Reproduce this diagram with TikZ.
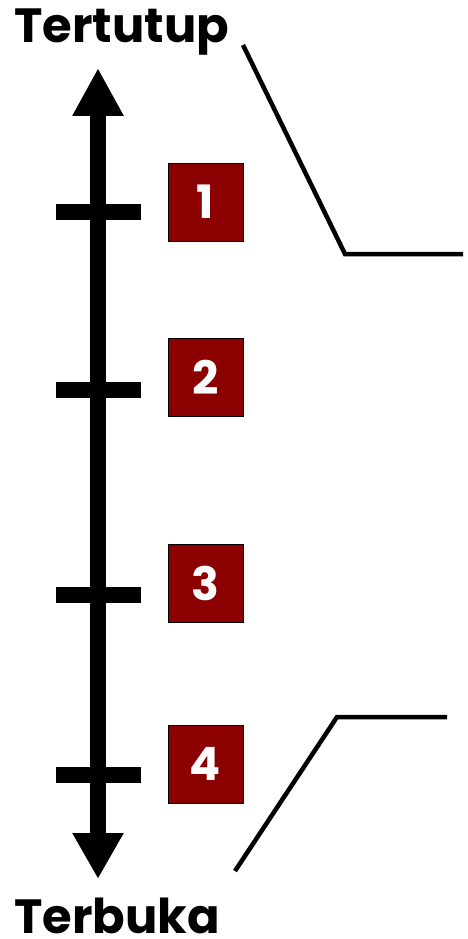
\documentclass[tikz,border=0pt]{standalone}
\usepackage{fontspec}
\setmainfont{Poppins}
\usepackage{tikz}
\usetikzlibrary{positioning,arrows.meta}
\definecolor{boxred}{HTML}{8B0000}

\begin{document}
\begin{tikzpicture}[x=1pt,y=-1pt,
 lvl/.style={draw=black,line width=1pt,fill=boxred,text=white,minimum width=75pt,minimum height=78pt,inner sep=0pt,font=\fontsize{46}{46}\selectfont\bfseries},
 tick/.style={line width=16pt},
 lbl/.style={font=\fontsize{48}{48}\selectfont\bfseries,inner sep=0pt,anchor=base west},
 br/.style={line width=4.5pt}]
\useasboundingbox (0,0) rectangle (467,939);
% labels
\node[lbl] (top) at (14,43) {Tertutup};
\node[lbl] (bot) at (14,933) {Terbuka};
% axis
\coordinate (ax1) at (98,68);
\coordinate (ax2) at (98,879);
\draw[line width=16pt,{Triangle[length=48pt,width=48pt]}-{Triangle[length=46pt,width=48pt]}] (ax1)--(ax2);
% ticks and boxes
\foreach \n/\ty/\by in {1/212/202,2/390/377,3/595/583,4/775/764}{
 \draw[tick] (56,\ty)--(141,\ty);
 \node[lvl] (b\n) at (205.5,\by) {\n};
}
% brackets
\coordinate (t1) at (243,45);
\coordinate (t2) at (345,254);
\coordinate (t3) at (463,254);
\draw[br] (t1)--(t2)--(t3);
\coordinate (u1) at (235,871);
\coordinate (u2) at (337,717);
\coordinate (u3) at (447,717);
\draw[br] (u1)--(u2)--(u3);
\end{tikzpicture}
\end{document}
